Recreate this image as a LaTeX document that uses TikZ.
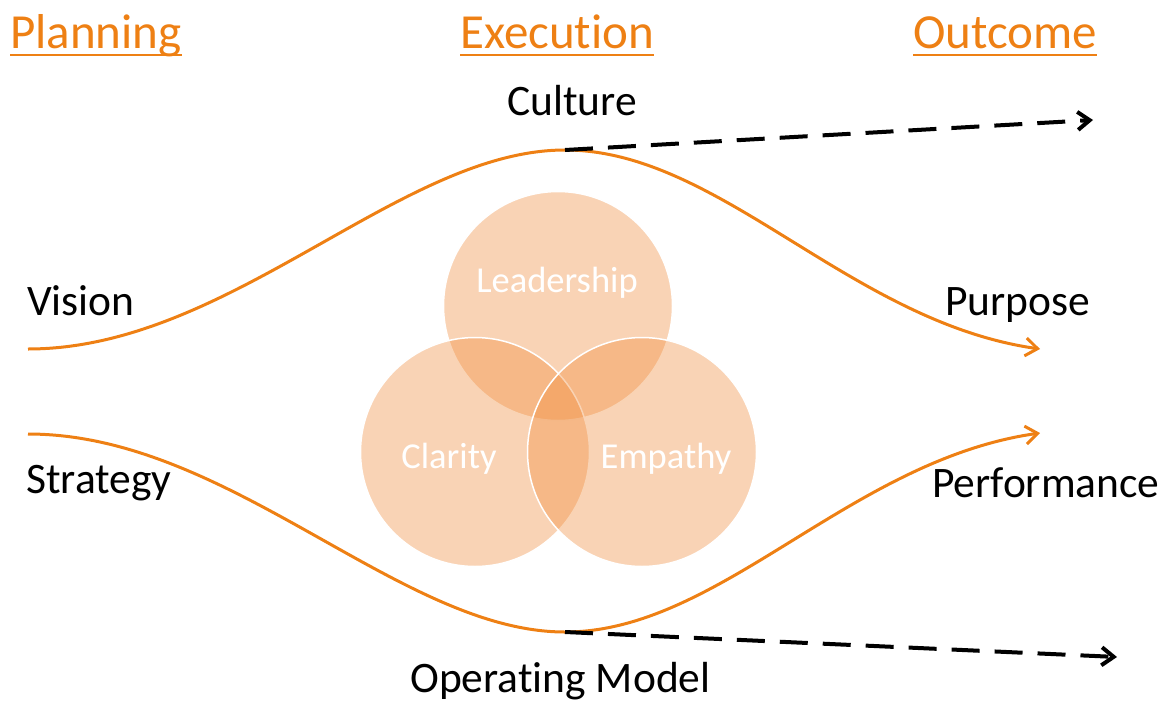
\documentclass[tikz,border=0pt]{standalone}
\usepackage{fontspec}
\setmainfont[Ligatures={NoCommon,NoContextual}]{Carlito}
\usepackage{tikz}
\usetikzlibrary{arrows.meta,shapes}

\definecolor{lineorange}{RGB}{238,128,20}
\definecolor{vennorange}{RGB}{240,140,60}

\begin{document}
\begin{tikzpicture}[x=1pt,y=-1pt,>={Straight Barb[length=12pt,width=18pt]},
            head/.style={inner sep=0pt,anchor=base west,text=lineorange,font=\fontsize{49}{55}\selectfont},
            headline/.style={draw=lineorange,line width=2.5pt},
            lbl/.style={inner sep=0pt,anchor=base west,font=\fontsize{43.5}{50}\selectfont},
            venn/.style={circle,inner sep=0pt,minimum size=229pt,fill=vennorange,fill opacity=0.38,draw=white,line width=1.5pt},
            vennlbl/.style={inner sep=0pt,anchor=base,text=white,font=\fontsize{36.5}{42}\selectfont},
            flow/.style={draw=lineorange,line width=3pt},
            trail/.style={draw=black,line width=4pt,dash pattern=on 28pt off 15pt}]
            \useasboundingbox (0,0) rectangle (1173,702);

            % headings
            \node[head] (plan) at (10,48) {Planning};
            \node[head] (exec) at (460,48) {Execution};
            \node[head] (out) at (913,48) {Outcome};
            \foreach \h in {plan,exec,out}
              \draw[headline] ([yshift=-7pt]\h.base west) -- ([yshift=-7pt]\h.base east);

            % labels
            \node[lbl] (vis) at (27,315) {Vision};
            \node[lbl] (strat) at (26,493) {Strategy};
            \node[lbl] (cult) at (507,115) {Culture};
            \node[lbl] (opmod) at (410,692) {Operating Model};
            \node[lbl] (purp) at (945,315) {Purpose};
            \node[lbl] (perf) at (932,497) {Performance};

            % venn
            \node[venn] (lead) at (558,306) {};
            \node[venn] (clar) at (475,452) {};
            \node[venn] (emp) at (642,452) {};
            \node[vennlbl] (leadtxt) at (557,292) {Leadership};
            \node[vennlbl] (clartxt) at (449,468) {Clarity};
            \node[vennlbl] (emptxt) at (666,468) {Empathy};

            % flows
            \coordinate (v0) at (28,349);
            \coordinate (top) at (565,150);
            \coordinate (v1) at (1040,349);
            \coordinate (s0) at (28,434);
            \coordinate (bot) at (565,632);
            \coordinate (s1) at (1040,433);
            \coordinate (c1) at (1093,120);
            \coordinate (o1) at (1117,657);

            \draw[flow,->] (v0) .. controls (230,349) and (400,150) .. (top)
                                .. controls (720,150) and (850,322) .. (v1);
            \draw[flow,->] (s0) .. controls (230,434) and (400,632) .. (bot)
                                .. controls (720,632) and (850,460) .. (s1);
            \draw[trail,->] (top) -- (c1);
            \draw[trail,->] (bot) -- (o1);
        \end{tikzpicture}
\end{document}
